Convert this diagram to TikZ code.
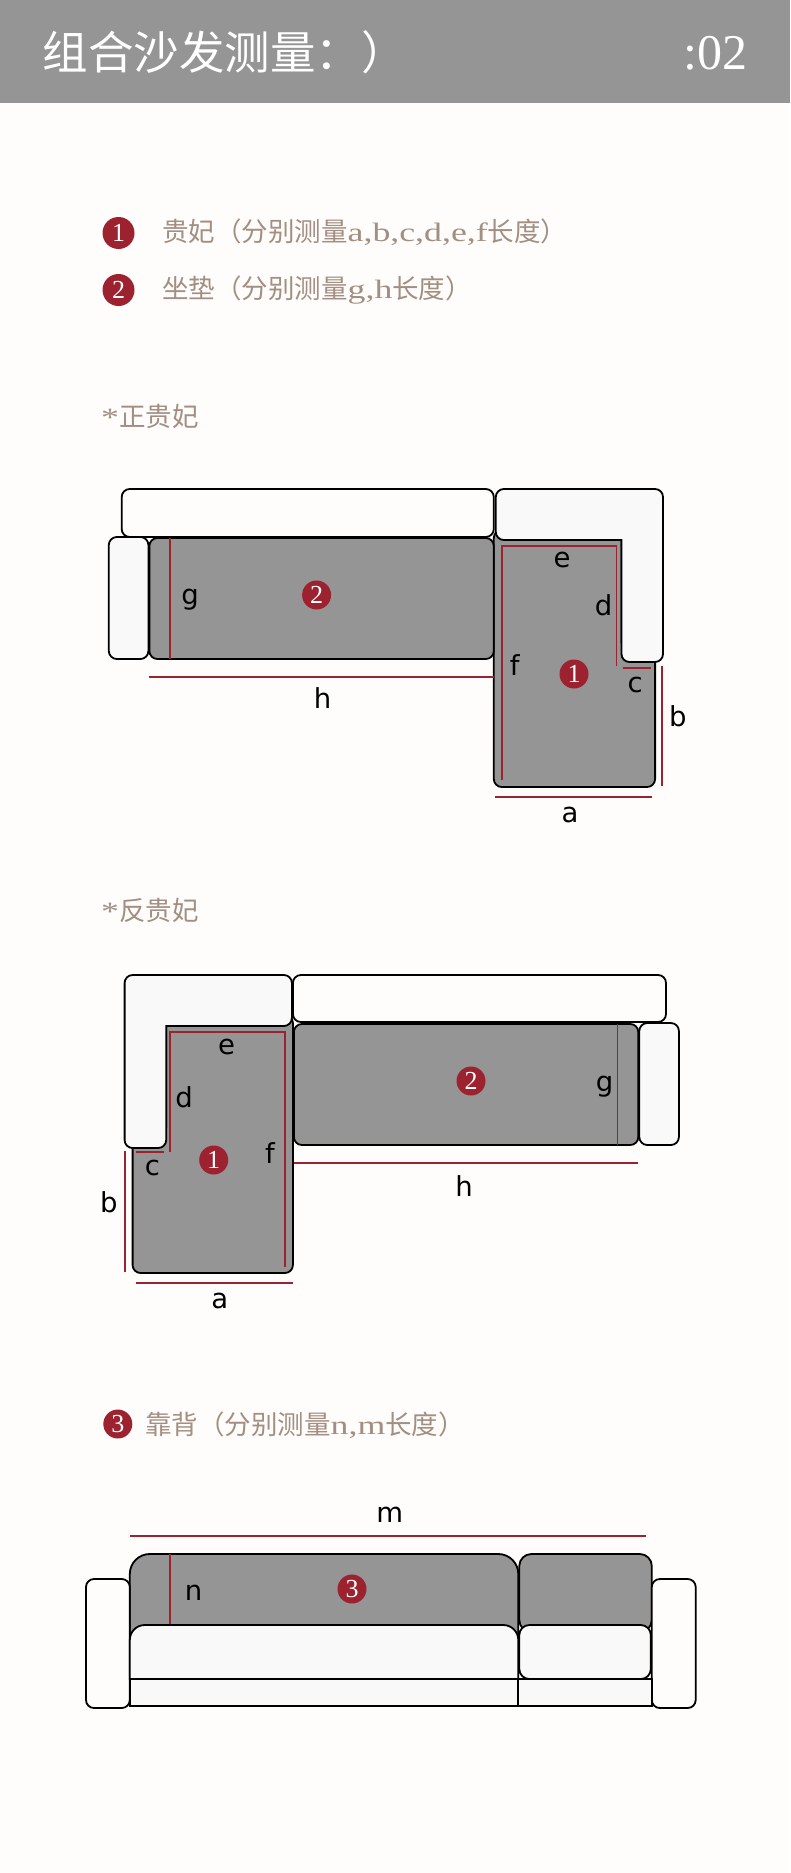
\documentclass[tikz,border=0pt]{standalone}
\usepackage{fontspec}
\setmainfont{Liberation Serif}
\newfontfamily\cjk{Noto Sans CJK SC}
\newfontfamily\latn[FakeStretch=1.35]{Liberation Serif}
\newfontfamily\lbl{DejaVu Sans}
\definecolor{paper}{HTML}{FFFDFB}
\definecolor{band}{HTML}{959595}
\definecolor{pad}{HTML}{959595}
\definecolor{soft}{HTML}{F9F9F9}
\definecolor{wine}{HTML}{9C2230}
\definecolor{taupe}{HTML}{A28E82}
\newcommand{\bodyfont}{\fontsize{26.5}{30}\selectfont}
\tikzset{
  sofa/.style = {draw=black, line width=1.8pt, rounded corners=8pt},
  redline/.style = {draw=wine, line width=1.8pt},
  badge/.style = {circle, fill=wine, text=white, inner sep=0pt, minimum size=29pt, font=\fontsize{26}{26}\selectfont},
  lab/.style = {inner sep=0pt, text=black, font=\lbl\fontsize{27.5}{28}\selectfont},
  note/.style = {anchor=west, inner sep=0pt, text=taupe, font=\bodyfont}
}
\begin{document}
\begin{tikzpicture}[x=1pt, y=-1pt]
\useasboundingbox (0,0) rectangle (790,1873);
\fill[paper] (0,0) rectangle (790,1873);
\fill[band] (0,0) rectangle (790,103);
\node (title) [anchor=west, inner sep=0pt, text=white] at (42.5,52) {\fontsize{45.5}{46}\selectfont\cjk 组合沙发测量：）};
\node (page) [anchor=east, inner sep=0pt, text=white] at (748,53) {\fontsize{50}{50}\selectfont :02};
% legend
\node[badge, minimum size=32pt] (one) at (118.5,233) {1};
\node[badge, minimum size=32pt] (two) at (118.5,290) {2};
\node[note] (chaiseText) at (162,232.5) {\cjk 贵妃（分别测量\latn a,b,c,d,e,f\cjk 长度）};
\node[note] (cushionText) at (162,290.5) {\cjk 坐垫（分别测量\latn g,h\cjk 长度）};
\node[note] (rightText) at (101,416.5) {\latn *\cjk 正贵妃};
\node[note] (leftText) at (101,910.5) {\latn *\cjk 反贵妃};
\node[badge] (three) at (117.8,1424) {3};
\node[note] (backText) at (145,1425) {\cjk 靠背（分别测量\latn n,m\cjk 长度）};
% right-hand chaise
\draw[sofa, fill=pad] (493.8,530) -- (621.5,530) -- (621.5,650) -- (655.1,650) -- (655.1,787) -- (493.8,787) -- cycle;
\draw[sofa, fill=paper] (121.7,489) rectangle (493.8,537);
\draw[sofa, fill=soft] (108.8,537) rectangle (148.4,659);
\draw[sofa, fill=pad] (149.4,538) rectangle (493.8,659);
\draw[sofa, fill=soft] (495.8,489) -- (663,489) -- (663,662) -- (621.5,662) [sharp corners] -- (621.5,540) [rounded corners=8pt] -- (495.8,540) -- cycle;
\begin{scope}[every path/.style = {redline}]
\coordinate (gTop) at (170.2,538); \coordinate (gEnd) at (170.2,659);
\coordinate (hL) at (149.4,677); \coordinate (hR) at (493.8,677);
\coordinate (fEnd) at (502.2,780); \coordinate (efC) at (502.2,546);
\coordinate (edC) at (616.5,546); \coordinate (dEnd) at (616.5,666);
\coordinate (cL) at (622.5,668); \coordinate (cR) at (651.2,668);
\coordinate (bTop) at (662,666); \coordinate (bEnd) at (662,786);
\coordinate (aL) at (494.8,797); \coordinate (aR) at (652.2,797);
\draw (gTop) -- (gEnd);
\draw (hL) -- (hR);
\draw (fEnd) -- (efC) -- (edC) -- (dEnd);
\draw (cL) -- (cR);
\draw (bTop) -- (bEnd);
\draw (aL) -- (aR);
\end{scope}
\begin{scope}[every node/.style = {lab}]
\node (g1) at (190,600) {g};
\node (h1) at (322.6,698) {h};
\node (e1) at (562,560) {e};
\node (d1) at (603.7,605) {d};
\node (f1) at (514.6,665) {f};
\node (c1) at (635.3,685) {c};
\node (b1) at (677.9,716) {b};
\node (a1) at (570,815) {a};
\end{scope}
\node[badge] (two1) at (316.6,595) {2};
\node[badge] (one1) at (574,674) {1};
% left-hand chaise
\draw[sofa, fill=pad] (292.9,1015) -- (166.2,1015) -- (166.2,1135) -- (132.6,1135) -- (132.6,1273) -- (292.9,1273) -- cycle;
\draw[sofa, fill=paper] (292.9,975) rectangle (666,1022);
\draw[sofa, fill=soft] (639.3,1023) rectangle (678.9,1145);
\draw[sofa, fill=pad] (293.9,1024) rectangle (638.3,1145);
\draw[sofa, fill=soft] (291.9,975) -- (124.6,975) -- (124.6,1148) -- (166.2,1148) [sharp corners] -- (166.2,1026) [rounded corners=8pt] -- (291.9,1026) -- cycle;
\begin{scope}[every path/.style = {redline}]
\coordinate (gTop2) at (617.5,1024); \coordinate (gEnd2) at (617.5,1145);
\coordinate (hL2) at (293.9,1163); \coordinate (hR2) at (638.3,1163);
\coordinate (fEnd2) at (285,1267); \coordinate (efC2) at (285,1032);
\coordinate (edC2) at (170.2,1032); \coordinate (dEnd2) at (170.2,1152);
\coordinate (cL2) at (135.5,1152); \coordinate (cR2) at (164.2,1152);
\coordinate (bTop2) at (124.6,1151); \coordinate (bEnd2) at (124.6,1272);
\coordinate (aL2) at (135.5,1283); \coordinate (aR2) at (292.9,1283);
\draw (gTop2) -- (gEnd2);
\draw (hL2) -- (hR2);
\draw (fEnd2) -- (efC2) -- (edC2) -- (dEnd2);
\draw (cL2) -- (cR2);
\draw (bTop2) -- (bEnd2);
\draw (aL2) -- (aR2);
\end{scope}
\begin{scope}[every node/.style = {lab}]
\node (g2) at (604.6,1087) {g};
\node (h2) at (464,1186) {h};
\node (e2) at (226.6,1047) {e};
\node (d2) at (184,1097) {d};
\node (f2) at (270,1153) {f};
\node (c2) at (152.4,1168) {c};
\node (b2) at (108.8,1202) {b};
\node (a2) at (219.7,1301) {a};
\end{scope}
\node[badge] (two2) at (471,1081) {2};
\node[badge] (one2) at (213.7,1160) {1};
% front view
\draw[sofa, fill=pad, rounded corners=20pt] (129.8,1660) -- (129.8,1554) -- (518.3,1554) -- (518.3,1660) -- cycle;
\draw[sofa, fill=pad, rounded corners=12pt] (519.3,1554) rectangle (651.8,1632);
\draw[sofa, fill=paper] (86,1579) rectangle (129.8,1708);
\draw[sofa, fill=paper] (651.8,1579) rectangle (695.7,1708);
\draw[sofa, fill=soft, rounded corners=0pt] (129.8,1679) rectangle (651.8,1706);
\draw[sofa, rounded corners=0pt] (518.3,1679) -- (518.3,1706);
\draw[sofa, fill=soft, rounded corners=15pt] (129.8,1679) -- (129.8,1625) -- (518.3,1625) [sharp corners] -- (518.3,1679) -- cycle;
\draw[sofa, fill=soft, rounded corners=10pt] (519.3,1625) rectangle (650.8,1679);
\coordinate (nTop) at (169.6,1554); \coordinate (nEnd) at (169.6,1624);
\coordinate (mL) at (129.8,1536); \coordinate (mR) at (645.9,1536);
\draw[redline] (nTop) -- (nEnd);
\draw[redline] (mL) -- (mR);
\node[lab] (n3) at (193.5,1593) {n};
\node[lab] (m3) at (389.8,1515) {m};
\node[badge] (three3) at (352,1589) {3};
\end{tikzpicture}
\end{document}
